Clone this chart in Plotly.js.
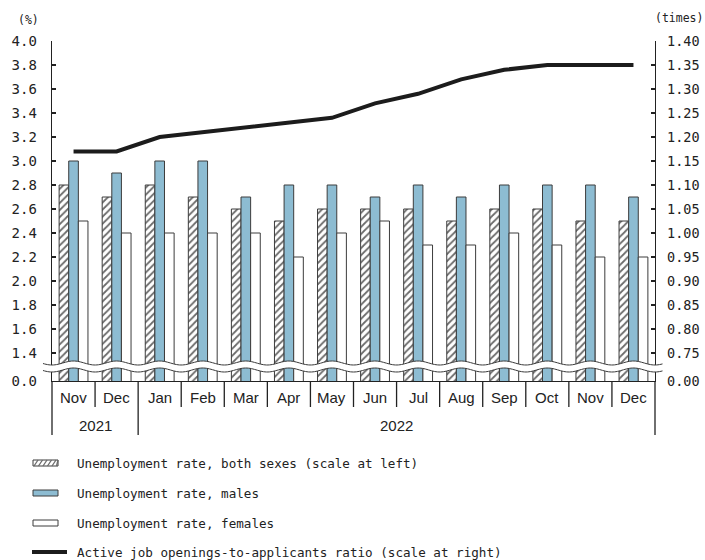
<!DOCTYPE html>
<html>
<head>
<meta charset="utf-8">
<script src="https://cdn.plot.ly/plotly-3.0.1.min.js"></script>
<style>
  html, body { margin: 0; padding: 0; background: #fff; }
  #chart { width: 705px; height: 560px; }
</style>
</head>
<body>
<div id="chart"></div>
<script>
// Monthly labour-market indicators, Nov 2021 - Dec 2022
const months = ['Nov', 'Dec', 'Jan', 'Feb', 'Mar', 'Apr', 'May', 'Jun', 'Jul', 'Aug', 'Sep', 'Oct', 'Nov', 'Dec'];
const years  = ['2021', '2021', '2022', '2022', '2022', '2022', '2022', '2022', '2022', '2022', '2022', '2022', '2022', '2022'];

// Unemployment rates (%), left scale
const bothSexes = [2.8, 2.7, 2.8, 2.7, 2.6, 2.5, 2.6, 2.6, 2.6, 2.5, 2.6, 2.6, 2.5, 2.5];
const males     = [3.0, 2.9, 3.0, 3.0, 2.7, 2.8, 2.8, 2.7, 2.8, 2.7, 2.8, 2.8, 2.8, 2.7];
const females   = [2.5, 2.4, 2.4, 2.4, 2.4, 2.2, 2.4, 2.5, 2.3, 2.3, 2.4, 2.3, 2.2, 2.2];

// Active job openings-to-applicants ratio (times), right scale
const jobRatio  = [1.17, 1.17, 1.20, 1.21, 1.22, 1.23, 1.24, 1.27, 1.29, 1.32, 1.34, 1.35, 1.35, 1.35];

// Axis ticks above the break, plus the label shown below the break
const leftTicks  = [1.4, 1.6, 1.8, 2.0, 2.2, 2.4, 2.6, 2.8, 3.0, 3.2, 3.4, 3.6, 3.8, 4.0];
const rightTicks = [0.75, 0.80, 0.85, 0.90, 0.95, 1.00, 1.05, 1.10, 1.15, 1.20, 1.25, 1.30, 1.35, 1.40];
const leftZeroLabel = '0.0';
const rightZeroLabel = '0.00';

const legendLabels = [
  'Unemployment rate, both sexes (scale at left)',
  'Unemployment rate, males',
  'Unemployment rate, females',
  'Active job openings-to-applicants ratio (scale at right)'
];

// ---- layout geometry (pixels) ----
const W = 705, H = 560;
const M = { l: 52, r: 50, t: 41, b: 179 };
const PW = W - M.l - M.r, PH = H - M.t - M.b;
const BREAK_PX = 28;                     // room below the lowest tick for the broken section
const leftMin = 1.4 - BREAK_PX * (4.0 - 1.4) / (PH - BREAK_PX);
const rightMin = 0.75 - BREAK_PX * (1.40 - 0.75) / (PH - BREAK_PX);

const px = x => (x - M.l) / PW;          // pixel -> paper x
const py = y => (M.t + PH - y) / PH;     // pixel -> paper y

const keys = months.map((m, i) => years[i] + ' ' + m);
const n = months.length;
const catX = i => (i + 0.5) / n;         // paper x of a category centre
const edgeX = i => i / n;                // paper x of a category boundary

const ink = '#222222';
const monoFont = 'DejaVu Sans Mono, Liberation Mono, monospace';
const sansFont = 'Liberation Sans, Arial, sans-serif';
const barLine = { color: '#3c3c3c', width: 1 };
const blue = '#8dbcd2';
const hatch = { shape: '/', bgcolor: '#ffffff', fgcolor: '#6a6a6a', size: 5, solidity: 0.35 };

const traces = [
  { type: 'bar', x: keys, y: bothSexes, name: legendLabels[0],
    marker: { color: '#ffffff', line: barLine, pattern: hatch } },
  { type: 'bar', x: keys, y: males, name: legendLabels[1],
    marker: { color: blue, line: barLine } },
  { type: 'bar', x: keys, y: females, name: legendLabels[2],
    marker: { color: '#ffffff', line: barLine } },
  { type: 'scatter', mode: 'lines', x: keys, y: jobRatio, yaxis: 'y2', name: legendLabels[3],
    line: { color: '#1c1c1c', width: 4 } }
];

const shapes = [];
const annotations = [];

// Broken-axis band: white wavy strip with two wavy rules
function wave(baseY) {
  const pts = [];
  const cw = PW / n;
  for (let x = 43; x <= 663; x += 1.5) {
    const y = baseY - 2 * Math.cos(2 * Math.PI * (x - (M.l + cw / 2)) / cw);
    pts.push([x, y]);
  }
  return pts;
}
const upper = wave(363), lower = wave(370);
const toPath = pts => pts.map((p, i) => (i ? 'L' : 'M') + px(p[0]).toFixed(5) + ',' + py(p[1]).toFixed(5)).join(' ');
shapes.push({
  type: 'path', xref: 'paper', yref: 'paper', layer: 'above',
  path: toPath(upper) + ' ' + toPath(lower.slice().reverse()).replace(/^M/, 'L') + ' Z',
  fillcolor: '#ffffff', line: { width: 0 }
});
[upper, lower].forEach(pts => shapes.push({
  type: 'path', xref: 'paper', yref: 'paper', layer: 'above',
  path: toPath(pts), line: { color: '#3a3a3a', width: 1 }
}));

// Category axis: separators, month row and year row
const monthRowBottom = 407, yearRowBottom = 435;
for (let i = 0; i <= n; i++) {
  const yearEdge = i === 0 || i === n || years[i] !== years[i - 1];
  shapes.push({
    type: 'line', xref: 'paper', yref: 'paper',
    x0: edgeX(i), x1: edgeX(i), y0: 0, y1: py(yearEdge ? yearRowBottom : monthRowBottom),
    line: { color: ink, width: 1.3 }
  });
}
months.forEach((m, i) => annotations.push({
  xref: 'paper', yref: 'paper', x: catX(i), y: py(397), text: m, showarrow: false,
  xanchor: 'center', yanchor: 'middle', font: { family: sansFont, size: 15, color: ink }
}));
let start = 0;
for (let i = 1; i <= n; i++) {
  if (i === n || years[i] !== years[start]) {
    annotations.push({
      xref: 'paper', yref: 'paper', x: (edgeX(start) + edgeX(i)) / 2, y: py(425), text: years[start],
      showarrow: false, xanchor: 'center', yanchor: 'middle',
      font: { family: sansFont, size: 15, color: ink }
    });
    start = i;
  }
}

// Unit labels
annotations.push({ xref: 'paper', yref: 'paper', x: px(28), y: py(20), text: '(%)', showarrow: false,
  xanchor: 'center', yanchor: 'middle', font: { family: monoFont, size: 11.5, color: ink } });
annotations.push({ xref: 'paper', yref: 'paper', x: px(679), y: py(18), text: '(times)', showarrow: false,
  xanchor: 'center', yanchor: 'middle', font: { family: monoFont, size: 11.5, color: ink } });

// Legend
const rowsY = [463, 493, 523, 552];
const symX0 = 33, symX1 = 58;
// hatched swatch
shapes.push({ type: 'rect', xref: 'paper', yref: 'paper', x0: px(symX0), x1: px(symX1),
  y0: py(rowsY[0] + 3), y1: py(rowsY[0] - 3), fillcolor: '#ffffff', line: { color: '#3c3c3c', width: 1 } });
for (let k = 0; k < 6; k++) {
  const xa = symX0 + 1 + k * 4.5;
  shapes.push({ type: 'line', xref: 'paper', yref: 'paper',
    x0: px(xa), y0: py(rowsY[0] + 3), x1: px(Math.min(xa + 4, symX1)), y1: py(rowsY[0] - 3),
    line: { color: '#6a6a6a', width: 1.3 } });
}
shapes.push({ type: 'rect', xref: 'paper', yref: 'paper', x0: px(symX0), x1: px(symX1),
  y0: py(rowsY[1] + 3), y1: py(rowsY[1] - 3), fillcolor: blue, line: { color: '#3c3c3c', width: 1 } });
shapes.push({ type: 'rect', xref: 'paper', yref: 'paper', x0: px(symX0), x1: px(symX1),
  y0: py(rowsY[2] + 3), y1: py(rowsY[2] - 3), fillcolor: '#ffffff', line: { color: '#3c3c3c', width: 1 } });
shapes.push({ type: 'line', xref: 'paper', yref: 'paper', x0: px(32), x1: px(67),
  y0: py(rowsY[3]), y1: py(rowsY[3]), line: { color: '#1c1c1c', width: 4 } });
legendLabels.forEach((t, i) => annotations.push({
  xref: 'paper', yref: 'paper', x: px(75), y: py(rowsY[i]), text: t, showarrow: false,
  xanchor: 'left', yanchor: 'middle', font: { family: monoFont, size: 12.6, color: ink }
}));

const layout = {
  width: W, height: H,
  margin: { l: M.l, r: M.r, t: M.t, b: M.b, pad: 0 },
  paper_bgcolor: '#ffffff', plot_bgcolor: '#ffffff',
  showlegend: false,
  barmode: 'group', bargap: 0.33, bargroupgap: 0,
  xaxis: {
    type: 'category', range: [-0.5, n - 0.5], showticklabels: false, ticks: '',
    showgrid: false, zeroline: false, showline: true, linecolor: ink, linewidth: 1.3, fixedrange: true
  },
  yaxis: {
    range: [leftMin, 4.0], showgrid: false, zeroline: false,
    showline: true, linecolor: ink, linewidth: 1.3,
    ticks: 'inside', ticklen: 4, tickcolor: ink, tickwidth: 1.3,
    tickvals: [leftMin].concat(leftTicks),
    ticktext: [leftZeroLabel].concat(leftTicks.map(v => v.toFixed(1))),
    tickfont: { family: monoFont, size: 14, color: ink },
    ticklabelstandoff: 11
  },
  yaxis2: {
    overlaying: 'y', side: 'right', range: [rightMin, 1.40], showgrid: false, zeroline: false,
    showline: true, linecolor: ink, linewidth: 1.3,
    ticks: 'inside', ticklen: 4, tickcolor: ink, tickwidth: 1.3,
    tickvals: [rightMin].concat(rightTicks),
    ticktext: [rightZeroLabel].concat(rightTicks.map(v => v.toFixed(2))),
    tickfont: { family: monoFont, size: 13.5, color: ink },
    ticklabelstandoff: 8
  },
  shapes: shapes,
  annotations: annotations
};

Plotly.newPlot('chart', traces, layout, { displayModeBar: false, staticPlot: true });
</script>
</body>
</html>
